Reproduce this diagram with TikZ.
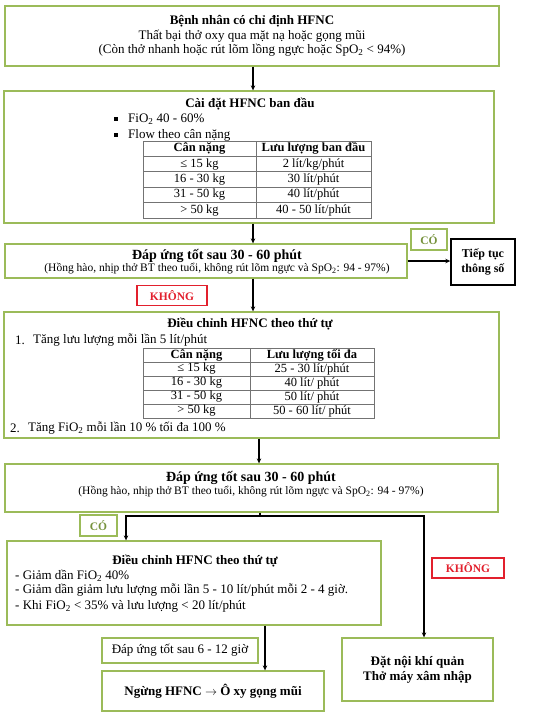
\documentclass[tikz,border=0pt]{standalone}
\usepackage{fontspec}
\setmainfont{Liberation Serif}
\usetikzlibrary{arrows.meta,positioning,calc}
\definecolor{boxgreen}{RGB}{155,187,89}
\definecolor{yesgreen}{RGB}{118,146,60}
\definecolor{nored}{RGB}{226,32,45}
\definecolor{cellgray}{RGB}{115,115,115}

\begin{document}
\begin{tikzpicture}[
  x=1pt, y=-1pt,
  greenbox/.style={draw=boxgreen, line width=1.3pt, inner sep=0pt, align=center},
  yesbox/.style={draw=boxgreen, line width=1.2pt, text=yesgreen, inner sep=0pt,
    minimum width=36pt, minimum height=21pt, font=\fontsize{11.5}{12}\selectfont\bfseries},
  nobox/.style={draw=nored, line width=1.2pt, text=nored, inner sep=0pt,
    minimum width=70pt, minimum height=20pt, font=\fontsize{11.5}{12}\selectfont\bfseries},
  arr/.style={-{Stealth[length=5pt,width=4.5pt]}, line width=1.1pt},
  body/.style={inner sep=0pt, font=\fontsize{13}{14.5}\selectfont},
  title/.style={inner sep=0pt, font=\fontsize{13}{14.5}\selectfont\bfseries},
  cell/.style={inner sep=0pt, font=\fontsize{12.5}{13}\selectfont},
  checktext/.style={inner sep=0pt, align=center, font=\fontsize{11.5}{13}\selectfont},
  tablerule/.style={draw=cellgray, line width=0.8pt}
]
  \useasboundingbox (0,0) rectangle (540,720);
  \coordinate (midA) at (253,0);
  \coordinate (midB) at (259,0);
  \coordinate (midC) at (265,0);

  % Indication
  \node[greenbox, minimum width=494pt, minimum height=60pt,
    font=\fontsize{13}{14.5}\selectfont] (start) at (252,36)
    {\textbf{Bệnh nhân có chỉ định HFNC}\\
     Thất bại thở oxy qua mặt nạ hoặc gọng mũi\\
     (Còn thở nhanh hoặc rút lõm lồng ngực hoặc SpO\textsubscript{2} < 94\%)};

  % Initial settings
  \node[greenbox, minimum width=490pt, minimum height=132pt] (init) at (249,157) {};
  \node[title] (initT) at (250,104) {Cài đặt HFNC ban đầu};
  \foreach \k/\txt/\yy in {1/{FiO\textsubscript{2} 40 - 60\%}/119, 2/{Flow theo cân nặng}/135}{
    \node[fill=black, minimum size=3.5pt, inner sep=0pt] (dot\k) at (116,\yy) {};
    \node[body, anchor=west] (item\k) at (128,\yy) {\txt};
  }
  \draw[tablerule] (143,141) rectangle (371,218);
  \draw[tablerule] (256,141) -- (256,218);
  \foreach \r in {1,...,4}
    \draw[tablerule] (143,{141+15.4*\r}) -- (371,{141+15.4*\r});
  \foreach \r/\wt/\fl in {
    0/{\textbf{Cân nặng}}/{\textbf{Lưu lượng ban đầu}},
    1/{≤ 15 kg}/{2 lít/kg/phút},
    2/{16 - 30 kg}/{30 lít/phút},
    3/{31 - 50 kg}/{40 lít/phút},
    4/{> 50 kg}/{40 - 50 lít/phút}
  }{
    \node[cell] (iw\r) at (199.5,{148.7+15.4*\r}) {\wt};
    \node[cell] (if\r) at (313.5,{148.7+15.4*\r}) {\fl};
  }

  % First check
  \node[greenbox, minimum width=402pt, minimum height=34pt] (resp1) at (206,261) {};
  \node[checktext] (resp1T) at (217,262)
    {{\fontsize{14}{13}\selectfont\bfseries Đáp ứng tốt sau 30 - 60 phút}\\[-1pt]
     (Hồng hào, nhịp thở BT theo tuổi, không rút lõm ngực và SpO\textsubscript{2}: 94 - 97\%)};
  \node[yesbox] (yes1) at (429,239.5) {CÓ};
  \node[draw, line width=1.4pt, minimum width=64pt, minimum height=46pt, inner sep=0pt,
    align=center, font=\fontsize{12}{15}\selectfont\bfseries] (cont) at (483,262)
    {Tiếp tục\\thông số};
  \node[nobox] (no1) at (172,295.5) {KHÔNG};

  % Escalation
  \node[greenbox, minimum width=495pt, minimum height=126pt] (adj1) at (251.5,375) {};
  \node[title] (adj1T) at (250,324) {Điều chỉnh HFNC theo thứ tự};
  \node[body, anchor=west] (s1n) at (15,340) {1.};
  \node[body, anchor=west] (s1) at (33,340) {Tăng lưu lượng mỗi lần 5 lít/phút};
  \draw[tablerule] (143,348) rectangle (374,418);
  \draw[tablerule] (250,348) -- (250,418);
  \foreach \r in {1,...,4}
    \draw[tablerule] (143,{348+14*\r}) -- (374,{348+14*\r});
  \foreach \r/\wt/\fl in {
    0/{\textbf{Cân nặng}}/{\textbf{Lưu lượng tối đa}},
    1/{≤ 15 kg}/{25 - 30 lít/phút},
    2/{16 - 30 kg}/{40 lít/ phút},
    3/{31 - 50 kg}/{50 lít/ phút},
    4/{> 50 kg}/{50 - 60 lít/ phút}
  }{
    \node[cell] (mw\r) at (196.5,{355+14*\r}) {\wt};
    \node[cell] (mf\r) at (312,{355+14*\r}) {\fl};
  }
  \node[body, anchor=west] (s2n) at (10,428) {2.};
  \node[body, anchor=west] (s2) at (28,428)
    {Tăng FiO\textsubscript{2} mỗi lần 10 \% tối đa 100 \%};

  % Second check
  \node[greenbox, minimum width=493pt, minimum height=48pt] (resp2) at (251.5,488) {};
  \node[checktext] (resp2T) at (251,484.5)
    {{\fontsize{14}{13}\selectfont\bfseries Đáp ứng tốt sau 30 - 60 phút}\\[0pt]
     (Hồng hào, nhịp thở BT theo tuổi, không rút lõm ngực và SpO\textsubscript{2}: 94 - 97\%)};
  \coordinate (fork) at (260,516);

  % Weaning
  \node[yesbox, minimum width=37pt] (yes2) at (98.5,525.5) {CÓ};
  \node[greenbox, minimum width=374pt, minimum height=84pt] (adj2) at (194,583) {};
  \node[title] (adj2T) at (195,561) {Điều chỉnh HFNC theo thứ tự};
  \foreach \k/\txt/\yy in {
    1/{- Giảm dần FiO\textsubscript{2} 40\%}/576,
    2/{- Giảm dần giảm lưu lượng mỗi lần 5 - 10 lít/phút mỗi 2 - 4 giờ.}/590,
    3/{- Khi FiO\textsubscript{2} < 35\% và lưu lượng < 20 lít/phút}/606
  }{
    \node[body, anchor=west] (w\k) at (15,\yy) {\txt};
  }
  \node[greenbox, minimum width=156pt, minimum height=25pt,
    font=\fontsize{13}{14.5}\selectfont] (good2) at (180,650.5) {Đáp ứng tốt sau 6 - 12 giờ};
  \node[greenbox, minimum width=222pt, minimum height=40pt,
    font=\fontsize{13}{14.5}\selectfont\bfseries] (wean) at (213,691)
    {Ngừng HFNC $\rightarrow$ Ô xy gọng mũi};

  % Failure
  \node[nobox, minimum width=72pt] (no2) at (468,568) {KHÔNG};
  \node[greenbox, minimum width=151pt, minimum height=63pt,
    font=\fontsize{13}{15}\selectfont\bfseries] (intub) at (417.5,669.5)
    {Đặt nội khí quản\\Thở máy xâm nhập};

  % Connectors
  \draw[arr] (start.south -| midA) -- (init.north -| midA);
  \draw[arr] (init.south -| midA) -- (resp1.north -| midA);
  \draw[arr] (resp1.east) -- (resp1.east -| cont.west);
  \draw[arr] (resp1.south -| midA) -- (adj1.north -| midA);
  \draw[arr] (adj1.south -| midB) -- (resp2.north -| midB);
  \draw[line width=1.1pt] (resp2.south -| fork) -- (fork);
  \draw[arr] (fork) -| ([xshift=-68pt]adj2.north);
  \draw[arr] (fork) -| ([xshift=6.5pt]intub.north);
  \draw[arr] (adj2.south -| midC) -- (wean.north -| midC);
\end{tikzpicture}
\end{document}
